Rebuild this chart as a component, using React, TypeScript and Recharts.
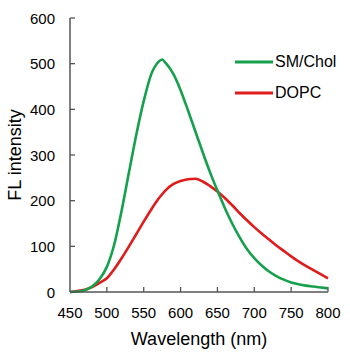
import { LineChart, Line, XAxis, YAxis } from 'recharts';

const wavelengths = [450, 460, 470, 480, 490, 500, 510, 520, 530, 540, 550, 560, 570, 575, 580, 590, 600, 610, 620, 630, 640, 650, 660, 670, 680, 690, 700, 710, 720, 730, 740, 750, 760, 770, 780, 790, 800];
const smChol = [0, 1, 4, 12, 28, 55, 104, 178, 262, 345, 418, 476, 504, 509, 501, 478, 442, 398, 352, 306, 262, 222, 184, 150, 120, 94, 74, 58, 45, 35, 27, 21, 17, 14, 12, 10, 8];
const dopc = [0, 2, 5, 11, 20, 30, 50, 74, 100, 127, 154, 180, 204, 214, 223, 236, 243, 247, 248, 242, 232, 220, 206, 190, 173, 157, 142, 128, 115, 102, 90, 78, 67, 57, 48, 39, 30];
const xTicks = [450, 500, 550, 600, 650, 700, 750, 800];
const yTicks = [0, 100, 200, 300, 400, 500, 600];
const seriesNames = ['SM/Chol', 'DOPC'];
const seriesColors = ['#15a04c', '#e01b1b'];

const data = wavelengths.map((wl, i) => ({ wl, sm: smChol[i], dopc: dopc[i] }));

const FONT = '"Liberation Sans", Arial, sans-serif';
const AXIS = '#555';

function XTick({ x, y, payload }: any) {
  return (
    <g>
      {payload.value !== 450 && <line x1={x} y1={y} x2={x} y2={y - 5} stroke={AXIS} strokeWidth={1.3} />}
      <text x={x} y={y + 20} textAnchor="middle" dominantBaseline="central" fontSize={15} fontFamily={FONT} fill="#000">
        {payload.value}
      </text>
    </g>
  );
}

function YTick({ x, y, payload }: any) {
  return (
    <g>
      {payload.value !== 0 && <line x1={x} y1={y} x2={x + 5} y2={y} stroke={AXIS} strokeWidth={1.3} />}
      <text x={x - 15} y={y} textAnchor="end" dominantBaseline="central" fontSize={15} fontFamily={FONT} fill="#000">
        {payload.value}
      </text>
    </g>
  );
}

export default function App() {
  return (
    <div style={{ position: 'absolute', left: 0, top: 0, width: 350, height: 355, background: '#fff' }}>
      <LineChart width={350} height={355} data={data} margin={{ top: 18, right: 22, bottom: 0, left: 0 }}>
        <XAxis
          dataKey="wl"
          type="number"
          domain={[450, 800]}
          ticks={xTicks}
          interval={0}
          height={63}
          tickSize={0}
          tickMargin={0}
          tick={<XTick />}
          stroke={AXIS}
          strokeWidth={1.5}
          label={{ value: 'Wavelength (nm)', position: 'insideBottom', offset: 10, fontSize: 18, fontFamily: FONT, fill: '#000' }}
        />
        <YAxis
          type="number"
          domain={[0, 600]}
          ticks={yTicks}
          interval={0}
          width={70}
          tickSize={0}
          tickMargin={0}
          tick={<YTick />}
          stroke={AXIS}
          strokeWidth={1.5}
          label={{ value: 'FL intensity', angle: -90, position: 'insideLeft', offset: 15, fontSize: 18, fontFamily: FONT, fill: '#000', style: { textAnchor: 'middle' } }}
        />
        <Line type="monotone" dataKey="dopc" stroke={seriesColors[1]} strokeWidth={2.6} dot={false} isAnimationActive={false} />
        <Line type="monotone" dataKey="sm" stroke={seriesColors[0]} strokeWidth={2.6} dot={false} isAnimationActive={false} />
      </LineChart>
      <div style={{ position: 'absolute', left: 235, top: 46, fontFamily: FONT, fontSize: 16, color: '#000' }}>
        {seriesNames.map((name, i) => (
          <div key={name} style={{ display: 'flex', alignItems: 'center', height: 31 }}>
            <svg width={38} height={4} style={{ marginRight: 2 }}>
              <line x1={0} y1={2} x2={38} y2={2} stroke={seriesColors[i]} strokeWidth={3} />
            </svg>
            <span>{name}</span>
          </div>
        ))}
      </div>
    </div>
  );
}
